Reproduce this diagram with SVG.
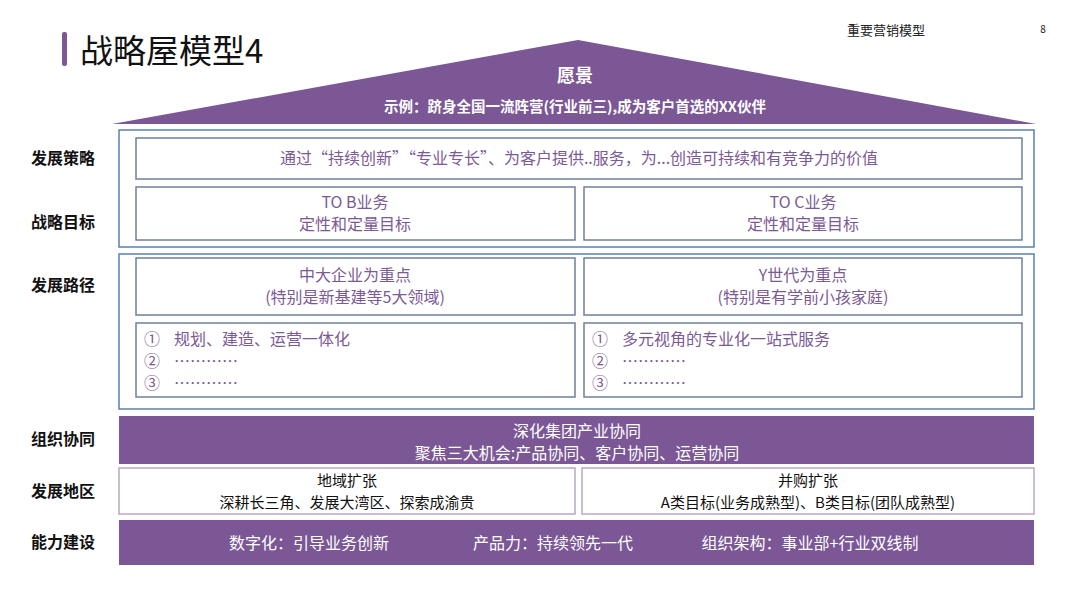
<svg xmlns="http://www.w3.org/2000/svg" width="1080" height="608" viewBox="0 0 1080 608">
<style>
text{font-family:"Noto Sans CJK SC","Noto Sans",sans-serif}
.lab{font-size:16px;font-weight:bold;fill:#111;text-anchor:middle}
.outer{fill:none;stroke:#5a7fae;stroke-width:1.5}
.inner{fill:#fff;stroke:#6f7f9a;stroke-width:1.5}
.pt{font-size:16px;fill:#7b5a96;text-anchor:middle}
.pl{font-size:16px;fill:#7b5a96}
.band{fill:#7b5796}
.wt{font-size:16px;fill:#fff;text-anchor:middle}
.dk{font-size:15px;fill:#111;text-anchor:middle}
.reg{fill:#fff;stroke:#b8a8c8;stroke-width:1.5}
</style>
<rect width="1080" height="608" fill="#fff"/>
<rect x="62" y="32" width="5" height="34" rx="2" fill="#7b5796"/>
<text x="80" y="63" font-size="33" fill="#111">战略屋模型4</text>
<text x="886" y="35" font-size="13" fill="#222" text-anchor="middle">重要营销模型</text>
<text x="1043" y="33" font-size="10" fill="#222" text-anchor="middle">8</text>
<g id="roof">
<polygon points="578,40 112,124 1036,124" fill="#7b5796"/>
<text x="575" y="82" font-size="18" font-weight="bold" fill="#fff" text-anchor="middle">愿景</text>
<text x="575" y="112" font-size="14.5" font-weight="bold" fill="#fff" text-anchor="middle">示例：跻身全国一流阵营(行业前三),成为客户首选的XX伙伴</text>
</g>
<g id="labels">
<text class="lab" x="63" y="164">发展策略</text>
<text class="lab" x="63" y="228">战略目标</text>
<text class="lab" x="63" y="291">发展路径</text>
<text class="lab" x="63" y="445">组织协同</text>
<text class="lab" x="63" y="497">发展地区</text>
<text class="lab" x="63" y="548">能力建设</text>
</g>
<rect class="outer" x="119" y="130" width="915" height="117"/>
<rect class="outer" x="119" y="254" width="915" height="155"/>
<g id="strategy"><rect class="inner" x="136" y="138" width="886" height="41"/>
<text class="pt" x="579" y="164" font-size="17">通过“持续创新”“专业专长”、为客户提供..服务，为...创造可持续和有竞争力的价值</text></g>
<g id="goalB"><rect class="inner" x="136" y="187" width="439" height="53"/>
<text class="pt" x="355" y="208">TO B业务</text><text class="pt" x="355" y="230">定性和定量目标</text></g>
<g id="goalC"><rect class="inner" x="584" y="187" width="438" height="53"/>
<text class="pt" x="803" y="208">TO C业务</text><text class="pt" x="803" y="230">定性和定量目标</text></g>
<g id="pathB"><rect class="inner" x="136" y="258" width="439" height="57"/>
<text class="pt" x="355" y="281">中大企业为重点</text><text class="pt" x="355" y="303">(特别是新基建等5大领域)</text></g>
<g id="pathC"><rect class="inner" x="584" y="258" width="438" height="57"/>
<text class="pt" x="803" y="281">Y世代为重点</text><text class="pt" x="803" y="303">(特别是有学前小孩家庭)</text></g>
<g id="listB"><rect class="inner" x="136" y="323" width="439" height="74"/>
<text class="pl" x="144" y="345">①</text><text class="pl" x="174" y="345">规划、建造、运营一体化</text>
<text class="pl" x="144" y="367">②</text><text class="pl" x="174" y="367">…………</text>
<text class="pl" x="144" y="389">③</text><text class="pl" x="174" y="389">…………</text></g>
<g id="listC"><rect class="inner" x="584" y="323" width="438" height="74"/>
<text class="pl" x="592" y="345">①</text><text class="pl" x="622" y="345">多元视角的专业化一站式服务</text>
<text class="pl" x="592" y="367">②</text><text class="pl" x="622" y="367">…………</text>
<text class="pl" x="592" y="389">③</text><text class="pl" x="622" y="389">…………</text></g>
<g id="org"><rect class="band" x="119" y="416" width="915" height="48"/>
<text class="wt" x="577" y="437">深化集团产业协同</text>
<text class="wt" x="577" y="459">聚焦三大机会:产品协同、客户协同、运营协同</text></g>
<g id="region1"><rect class="reg" x="119" y="468" width="456" height="46"/>
<text class="dk" x="347" y="486">地域扩张</text><text class="dk" x="347" y="508">深耕长三角、发展大湾区、探索成渝贵</text></g>
<g id="region2"><rect class="reg" x="582" y="468" width="452" height="46"/>
<text class="dk" x="808" y="486">并购扩张</text><text class="dk" x="808" y="508">A类目标(业务成熟型)、B类目标(团队成熟型)</text></g>
<g id="capability"><rect class="band" x="119" y="520" width="915" height="45"/>
<text class="wt" x="309" y="549" font-size="17">数字化：引导业务创新</text>
<text class="wt" x="553" y="549" font-size="17">产品力：持续领先一代</text>
<text class="wt" x="810" y="549" font-size="17">组织架构：事业部+行业双线制</text></g>
<g id="connectors"/>
</svg>
